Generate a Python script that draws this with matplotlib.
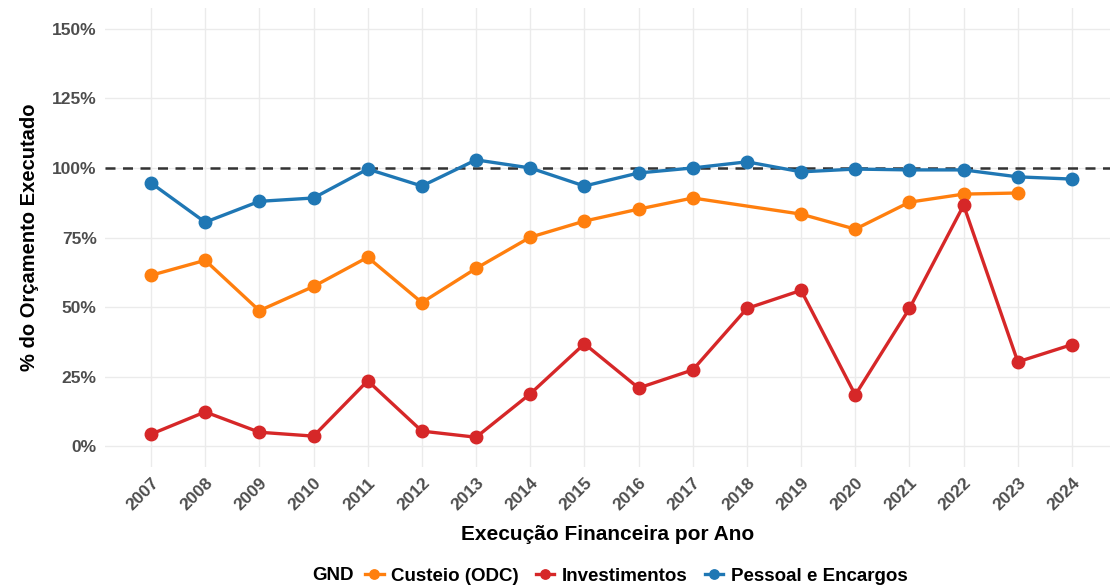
import matplotlib.pyplot as plt
from matplotlib.ticker import FuncFormatter
from matplotlib.offsetbox import HPacker

plt.rcParams['font.family'] = ['Liberation Sans', 'DejaVu Sans']

anos = list(range(2007, 2025))

# Custeio (ODC) - sem 2018 e 2024
anos_custeio = [2007, 2008, 2009, 2010, 2011, 2012, 2013, 2014, 2015, 2016, 2017,
                2019, 2020, 2021, 2022, 2023]
custeio = [61.4, 66.8, 48.7, 57.4, 67.9, 51.6, 63.9, 75.1, 80.9, 85.2, 89.2,
           83.4, 78.0, 87.7, 90.6, 91.0]

investimentos = [4.3, 12.3, 5.0, 3.6, 23.5, 5.4, 3.2, 18.8, 36.8, 20.9, 27.4,
                 49.5, 56.0, 18.4, 49.5, 86.6, 30.3, 36.5]

pessoal = [94.6, 80.5, 88.0, 89.2, 99.6, 93.5, 102.9, 100.0, 93.5, 98.2, 100.0,
           102.2, 98.6, 99.6, 99.3, 99.3, 96.8, 96.0]

cores = {'Custeio (ODC)': '#FF7F0E', 'Investimentos': '#D62728',
         'Pessoal e Encargos': '#1F77B4'}

fig = plt.figure(figsize=(11.1, 5.85), dpi=100)
ax = fig.add_axes([105 / 1110, 1 - 467 / 585, 1 - 105 / 1110, (467 - 8) / 585])

ax.axhline(100, color='#333333', lw=1.8, ls=(0, (4, 3)), zorder=1)

series = [(anos_custeio, custeio, 'Custeio (ODC)'),
          (anos, investimentos, 'Investimentos'),
          (anos, pessoal, 'Pessoal e Encargos')]
for x, y, nome in series:
    ax.plot(x, y, color=cores[nome], lw=2.4, marker='o', markersize=9,
            label=nome, zorder=3)

ax.set_xlim(2007 - 46 / 54.18, 2024 + 38 / 54.18)
ax.set_ylim(-7.5, 157.5)
ax.set_xticks(anos)
ax.set_yticks([0, 25, 50, 75, 100, 125, 150])
ax.yaxis.set_major_formatter(FuncFormatter(lambda v, p: f'{v:.0f}%'))

for s in ax.spines.values():
    s.set_visible(False)
ax.grid(True, color='#EBEBEB', lw=1.0)
ax.set_axisbelow(True)
ax.tick_params(length=0, labelsize=12.5, labelcolor='#4D4D4D', pad=6)
for lab in ax.get_xticklabels() + ax.get_yticklabels():
    lab.set_fontweight('bold')
plt.setp(ax.get_xticklabels(), rotation=45, ha='right', rotation_mode='anchor')

ax.set_xlabel('Execução Financeira por Ano', fontsize=15, fontweight='bold', labelpad=8)
ax.set_ylabel('% do Orçamento Executado', fontsize=14.5, fontweight='bold', labelpad=9)

leg = fig.legend(loc='center', bbox_to_anchor=(610 / 1110, 1 - 576 / 585), ncol=3,
                 frameon=False, title='GND', handlelength=1.0, handletextpad=0.4,
                 columnspacing=0.9, markerscale=0.75,
                 prop={'weight': 'bold', 'size': 13.5},
                 title_fontproperties={'weight': 'bold', 'size': 13.5})
# título ao lado das entradas
leg._legend_box = HPacker(children=leg._legend_box.get_children(), align='center',
                          pad=0, sep=8)
leg._legend_box.set_figure(fig)
leg._legend_box.set_offset(leg._findoffset)

fig.savefig('out.png', dpi=100)
